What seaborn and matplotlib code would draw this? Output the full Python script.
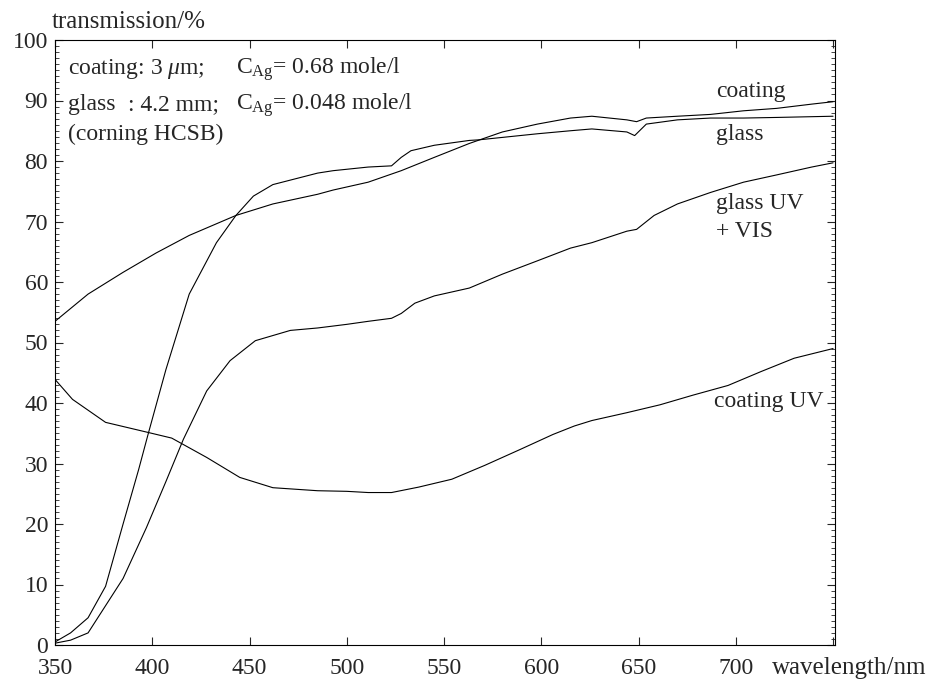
import matplotlib
matplotlib.use("Agg")
import matplotlib.pyplot as plt
import seaborn as sns
from matplotlib.ticker import MultipleLocator

# transmission spectra (wavelength in nm, transmission in %)
coating_wl = [350, 367, 385, 402, 419, 443, 462, 485, 493, 511, 528, 545, 563, 580,
              598, 615, 626, 644, 649, 654, 670, 687, 704, 721, 739, 750]
coating_t = [53.5, 58, 61.6, 64.8, 67.7, 71, 72.9, 74.5, 75.2, 76.5, 78.4, 80.6, 82.9, 84.8,
             86.1, 87.1, 87.4, 86.8, 86.5, 87.1, 87.4, 87.7, 88.3, 88.7, 89.4, 89.8]

glass_wl = [350, 358, 367, 376, 385, 393, 398, 407, 419, 433, 443, 452, 462, 485, 493,
            511, 523, 528, 533, 545, 563, 568, 580, 598, 615, 626, 644, 648, 654, 670,
            687, 704, 721, 750]
glass_t = [0.5, 2, 4.5, 9.7, 20, 29, 35, 45.5, 58, 66.5, 71, 74.2, 76.1, 78, 78.4,
           79, 79.2, 80.6, 81.7, 82.6, 83.4, 83.5, 83.9, 84.5, 85, 85.3, 84.8, 84.2, 86.1, 86.8,
           87.1, 87.1, 87.2, 87.4]

glass_uv_wl = [350, 358, 367, 385, 397, 407, 416, 428, 440, 453, 471, 485, 500, 511,
               523, 528, 535, 545, 563, 580, 598, 615, 626, 644, 649, 658, 670, 687,
               704, 721, 739, 750]
glass_uv_t = [0.3, 0.8, 2, 11, 19.4, 27, 34, 42, 47, 50.3, 52, 52.4, 53, 53.5,
              54, 54.8, 56.5, 57.7, 59, 61.3, 63.5, 65.6, 66.5, 68.4, 68.7, 71, 72.9, 74.8,
              76.5, 77.7, 79, 79.7]

coating_uv_wl = [350, 359, 376, 397, 410, 428, 445, 462, 485, 500, 511, 523, 537, 554,
                 571, 589, 606, 617, 626, 644, 661, 678, 696, 713, 730, 750]
coating_uv_t = [43.9, 40.6, 36.8, 35.2, 34.2, 31, 27.7, 26, 25.5, 25.4, 25.2, 25.2, 26.1, 27.4,
                29.7, 32.3, 34.8, 36.2, 37.1, 38.4, 39.7, 41.3, 42.9, 45.2, 47.4, 49]

sns.set_style("ticks")
plt.rcParams['font.family'] = ['Liberation Serif', 'DejaVu Serif']
plt.rcParams['mathtext.fontset'] = 'custom'
plt.rcParams['mathtext.rm'] = 'Liberation Serif'
plt.rcParams['mathtext.it'] = 'Liberation Serif:italic'

fig = plt.figure(figsize=(9.3, 6.81), dpi=100)
ax = fig.add_axes([55 / 930, 36 / 681, 780 / 930, 605 / 681])

for wl, t in [(coating_wl, coating_t), (glass_wl, glass_t),
              (glass_uv_wl, glass_uv_t), (coating_uv_wl, coating_uv_t)]:
    sns.lineplot(x=wl, y=t, color='black', lw=0.8, estimator=None, sort=False, ax=ax)

ax.set_xlim(350, 751)
ax.set_ylim(0, 100)
ax.set_xticks(range(350, 751, 50))
ax.set_xticklabels([str(v) for v in range(350, 701, 50)] + [''])
ax.set_yticks(range(0, 101, 10))
ax.yaxis.set_minor_locator(MultipleLocator(1))
ax.tick_params(axis='both', which='major', direction='in', length=6, width=0.8,
               top=True, right=True, labelsize=17)
ax.tick_params(axis='x', which='major', pad=9)
ax.tick_params(axis='y', which='major', pad=5)
ax.tick_params(axis='y', which='minor', direction='in', length=3, width=0.6, right=True)
for s in ax.spines.values():
    s.set_linewidth(0.8)
    s.set_color('black')
ax.set_xlabel('')
ax.set_ylabel('')

fs = 17
ax.text(356.5, 94.4, 'coating: 3 $\\mu$m;', fontsize=fs, va='baseline')
ax.text(443, 94.4, 'C$_{\\rm Ag}$= 0.68 mole/l', fontsize=fs, va='baseline')
ax.text(356.5, 88.4, 'glass', fontsize=fs, va='baseline')
ax.text(387.5, 88.4, ': 4.2 mm;', fontsize=fs, va='baseline')
ax.text(443, 88.4, 'C$_{\\rm Ag}$= 0.048 mole/l', fontsize=fs, va='baseline')
ax.text(356.5, 83.4, '(corning HCSB)', fontsize=fs, va='baseline')

ax.text(690, 91.5, 'coating', fontsize=fs, va='center')
ax.text(690, 84.3, 'glass', fontsize=fs, va='center')
ax.text(690, 72.9, 'glass UV', fontsize=fs, va='center')
ax.text(690, 68.4, '+ VIS', fontsize=fs, va='center')
ax.text(689, 40.3, 'coating UV', fontsize=fs, va='center')

fig.text(52 / 930, 1 - 22 / 681, 'transmission/%', fontsize=18, va='center', ha='left')
fig.text(772 / 930, 1 - 668 / 681, 'wavelength/nm', fontsize=18, va='center', ha='left')

fig.savefig('out.png', dpi=100)
